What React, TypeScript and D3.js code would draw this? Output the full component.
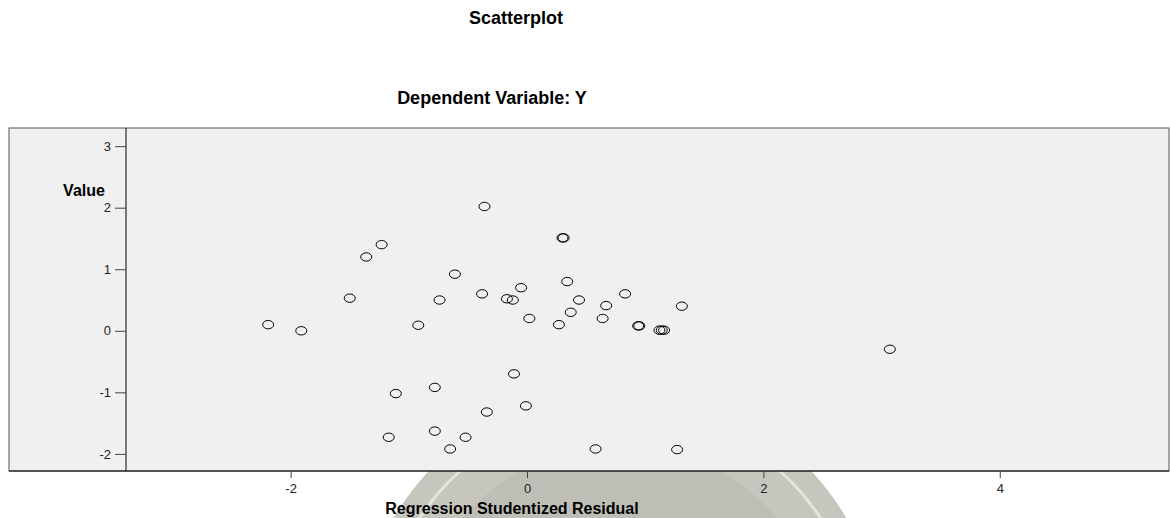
import React, { useEffect, useRef } from 'react';
import * as d3 from 'd3';

// Regression Studentized Residual (x) against Value (y)
const residuals = [
  -2.19, -1.91, -1.50, -1.36, -1.23, -1.11, -1.17, -0.92, -0.78, -0.78,
  -0.74, -0.65, -0.61, -0.52, -0.38, -0.36, -0.34, -0.17, -0.12, -0.11,
  -0.05, -0.01, 0.02, 0.27, 0.31, 0.30, 0.34, 0.37, 0.44, 0.58,
  0.64, 0.67, 0.83, 0.94, 0.95, 1.12, 1.14, 1.16, 1.27, 1.31, 3.07,
];
const values = [
  0.10, 0.00, 0.53, 1.20, 1.40, -1.02, -1.73, 0.09, -0.92, -1.63,
  0.50, -1.92, 0.92, -1.73, 0.60, 2.02, -1.32, 0.52, 0.50, -0.70,
  0.70, -1.22, 0.20, 0.10, 1.51, 1.51, 0.80, 0.30, 0.50, -1.92,
  0.20, 0.41, 0.60, 0.08, 0.08, 0.01, 0.01, 0.01, -1.93, 0.40, -0.30,
];
const xTicks = [-2, 0, 2, 4];
const yTicks = [-2, -1, 0, 1, 2, 3];

const title = 'Scatterplot';
const subtitle = 'Dependent Variable: Y';
const xTitle = 'Regression Studentized Residual';
const yTitle = 'Value';

export default function App() {
  const svgRef = useRef<SVGSVGElement>(null);

  useEffect(() => {
    const w = 1170;
    const h = 518;
    const frame = { left: 9, right: 1169, top: 128, bottom: 471 };
    const axisX = 126;

    const svg = d3.select(svgRef.current).attr('width', w).attr('height', h);
    svg.selectAll('*').remove();

    const font = 'Arial, "Liberation Sans", Helvetica, sans-serif';

    // faint seal watermark behind the page
    const seal = svg.append('g');
    seal.append('circle')
      .attr('cx', 620).attr('cy', 650).attr('r', 262)
      .attr('fill', '#c6c6be');
    seal.append('circle')
      .attr('cx', 620).attr('cy', 650).attr('r', 240)
      .attr('fill', 'none').attr('stroke', '#e4e4de').attr('stroke-width', 3);
    seal.append('circle')
      .attr('cx', 620).attr('cy', 650).attr('r', 205)
      .attr('fill', '#bebeb6');

    const xScale = d3.scaleLinear().domain([-3.393, 5.432]).range([axisX, frame.right]);
    const yScale = d3.scaleLinear().domain([-2.278, 3.295]).range([frame.bottom, frame.top]);

    // plot panel
    svg.append('rect')
      .attr('x', frame.left).attr('y', frame.top)
      .attr('width', frame.right - frame.left).attr('height', frame.bottom - frame.top)
      .attr('fill', '#f0f0f0').attr('stroke', '#555').attr('stroke-width', 1);

    // titles
    svg.append('text').text(title)
      .attr('x', 516).attr('y', 24).attr('text-anchor', 'middle')
      .attr('font-family', font).attr('font-weight', 'bold').attr('font-size', 18);
    svg.append('text').text(subtitle)
      .attr('x', 492).attr('y', 104).attr('text-anchor', 'middle')
      .attr('font-family', font).attr('font-weight', 'bold').attr('font-size', 18);

    // y axis
    const yAxis = d3.axisLeft(yScale).tickValues(yTicks).tickSize(11).tickPadding(4)
      .tickFormat(d => String(d));
    const yg = svg.append('g').attr('transform', `translate(${axisX},0)`).call(yAxis);
    yg.select('.domain').attr('d', `M0,${frame.top}V${frame.bottom}`).attr('stroke', '#000');
    yg.selectAll('.tick line').attr('stroke', '#444');
    yg.selectAll('.tick text').attr('font-family', font).attr('font-size', 13).attr('fill', '#222');

    // x axis
    const xAxis = d3.axisBottom(xScale).tickValues(xTicks).tickSize(7).tickPadding(6)
      .tickFormat(d => String(d));
    const xg = svg.append('g').attr('transform', `translate(0,${frame.bottom})`).call(xAxis);
    xg.select('.domain').attr('d', `M${frame.left},0H${frame.right}`).attr('stroke', '#000');
    xg.selectAll('.tick line').attr('stroke', '#444');
    xg.selectAll('.tick text').attr('font-family', font).attr('font-size', 13).attr('fill', '#222');

    // axis titles
    svg.append('text').text(yTitle)
      .attr('x', 84).attr('y', 196).attr('text-anchor', 'middle')
      .attr('font-family', font).attr('font-weight', 'bold').attr('font-size', 16);
    svg.append('text').text(xTitle)
      .attr('x', 512).attr('y', 514).attr('text-anchor', 'middle')
      .attr('font-family', font).attr('font-weight', 'bold').attr('font-size', 16);

    // points
    svg.append('g').selectAll('ellipse')
      .data(residuals.map((r, i) => [r, values[i]]))
      .join('ellipse')
        .attr('cx', d => xScale(d[0]))
        .attr('cy', d => yScale(d[1]))
        .attr('rx', 5.5)
        .attr('ry', 4.2)
        .attr('fill', 'none')
        .attr('stroke', '#000')
        .attr('stroke-width', 1);
  }, []);

  return (
    <div style={{ position: 'absolute', left: 0, top: 0 }}>
      <svg ref={svgRef} style={{ display: 'block' }}></svg>
    </div>
  );
}
